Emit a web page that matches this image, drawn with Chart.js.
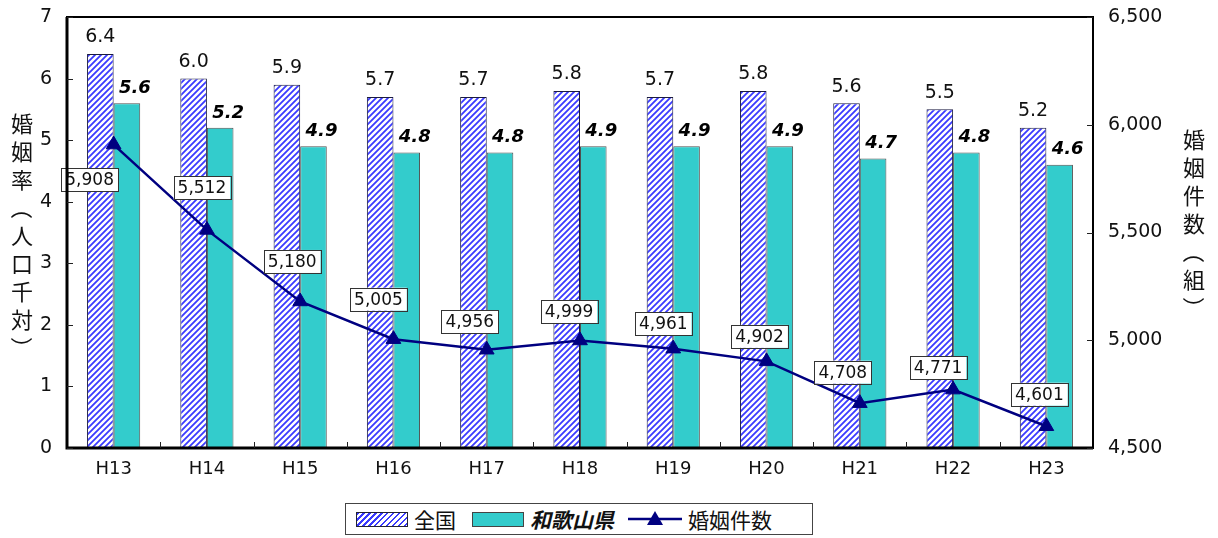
<!DOCTYPE html>
<html lang="ja">
<head>
<meta charset="utf-8">
<title>婚姻率と婚姻件数</title>
<script src="https://cdn.jsdelivr.net/npm/chart.js@4/dist/chart.umd.min.js"></script>
<style>
  html, body { margin: 0; padding: 0; background: #fff; }
  #wrap { position: relative; width: 1218px; height: 538px; }
  #legend {
    position: absolute; left: 345px; top: 503px; width: 466px; height: 30px;
    border: 1px solid #444; background: #fff;
    display: flex; align-items: center;
    font-family: "Noto Sans CJK JP", sans-serif; font-size: 21px; color: #111;
  }
  #legend .sw { display: inline-block; width: 52px; height: 15px; box-sizing: border-box; }
  #legend .hatch {
    margin-left: 10px; border: 1px solid #223;
    background: repeating-linear-gradient(135deg, #3a3aff 0 1.6px, #fff 1.6px 4.2px);
  }
  #legend .teal { margin-left: 16px; background: #33cccc; border: 1px solid #444; }
  #legend .txt { margin-left: 6px; line-height: 1; }
  #legend .bi { font-weight: bold; font-style: italic; }
  #legend svg { margin-left: 14px; }
</style>
</head>
<body>
<div id="wrap">
  <canvas id="chart" width="1218" height="538"></canvas>
  <div id="legend">
    <span class="sw hatch"></span><span class="txt">全国</span>
    <span class="sw teal"></span><span class="txt bi">和歌山県</span>
    <svg width="54" height="20"><line x1="0" y1="10" x2="54" y2="10" stroke="#000080" stroke-width="2.5"/><polygon points="27,2 35,16 19,16" fill="#000080"/></svg><span class="txt">婚姻件数</span>
  </div>
</div>
<script>
// =====================
// データ
// =====================
const years = ['H13', 'H14', 'H15', 'H16', 'H17', 'H18', 'H19', 'H20', 'H21', 'H22', 'H23'];
const nationalRate = [6.4, 6.0, 5.9, 5.7, 5.7, 5.8, 5.7, 5.8, 5.6, 5.5, 5.2];
const wakayamaRate = [5.6, 5.2, 4.9, 4.8, 4.8, 4.9, 4.9, 4.9, 4.7, 4.8, 4.6];
const marriages = [5908, 5512, 5180, 5005, 4956, 4999, 4961, 4902, 4708, 4771, 4601];

// 縦書きタイトル（括弧は回転して描く）
const leftTitle = ['婚', '姻', '率', '（', '人', '口', '千', '対', '）'];
const rightTitle = ['婚', '姻', '件', '数', '（', '組', '）'];

// ラベルの位置ずれ（点からの距離）
const countLabelDx = [-24, -5, -8, -15, -17, -11, -10, -7, -17, -15, -7];
const countLabelDy = [35, -42, -40, -40, -28, -29, -25, -25, -31, -22, -32];

const NUM_FONT = '"DejaVu Sans", sans-serif';
const JP_FONT = '"Noto Sans CJK JP", sans-serif';

const canvas = document.getElementById('chart');
const ctx = canvas.getContext('2d');

// 斜線パターン
function makeHatch() {
    const c = document.createElement('canvas');
    c.width = 6; c.height = 6;
    const g = c.getContext('2d');
    g.fillStyle = '#ffffff';
    g.fillRect(0, 0, 6, 6);
    g.strokeStyle = '#3a3aff';
    g.lineWidth = 1.8;
    g.beginPath();
    g.moveTo(-1, 7); g.lineTo(7, -1);
    g.moveTo(-4, 4); g.lineTo(4, -4);
    g.moveTo(2, 10); g.lineTo(10, 2);
    g.stroke();
    return ctx.createPattern(c, 'repeat');
}

function drawVertical(c, chars, x, y0, step) {
    chars.forEach((ch, i) => {
        const y = y0 + i * step;
        if (ch === '（' || ch === '）') {
            c.save();
            c.translate(x, y);
            c.rotate(Math.PI / 2);
            c.fillText(ch, 0, 0);
            c.restore();
        } else {
            c.fillText(ch, x, y);
        }
    });
}

// =====================
// 枠・タイトル・ラベル
// =====================
const decorPlugin = {
    id: 'decor',
    afterDatasetsDraw(chart) {
        const c = chart.ctx;
        const area = chart.chartArea;
        const y = chart.scales.y;
        const y1 = chart.scales.y1;

        c.save();
        // 棒の値
        const m0 = chart.getDatasetMeta(0);
        const m1 = chart.getDatasetMeta(1);
        c.textAlign = 'center';
        c.textBaseline = 'bottom';
        c.fillStyle = '#111';
        c.font = '19px ' + NUM_FONT;
        m0.data.forEach((bar, i) => {
            c.fillText(nationalRate[i].toFixed(1), bar.x, bar.y - 7);
        });
        c.font = 'italic bold 18px ' + NUM_FONT;
        c.fillStyle = '#000';
        m1.data.forEach((bar, i) => {
            c.fillText(wakayamaRate[i].toFixed(1), bar.x + 8, bar.y - 6);
        });

        // 件数ラベル
        const m2 = chart.getDatasetMeta(2);
        c.font = '17px ' + NUM_FONT;
        c.textBaseline = 'middle';
        m2.data.forEach((pt, i) => {
            const txt = marriages[i].toLocaleString('en-US');
            const w = c.measureText(txt).width + 8;
            const h = 23;
            const cx = pt.x + countLabelDx[i];
            const cy = pt.y + countLabelDy[i];
            c.fillStyle = '#fff';
            c.fillRect(cx - w / 2, cy - h / 2, w, h);
            c.strokeStyle = '#333';
            c.lineWidth = 1;
            c.strokeRect(Math.round(cx - w / 2) + 0.5, Math.round(cy - h / 2) + 0.5, Math.round(w), h);
            c.fillStyle = '#111';
            c.fillText(txt, cx, cy + 1);
        });

        // 枠
        c.strokeStyle = '#000';
        c.lineWidth = 2;
        c.strokeRect(area.left, area.top, area.right - area.left, area.bottom - area.top);
        c.lineWidth = 3;
        c.beginPath();
        c.moveTo(area.left, area.top);
        c.lineTo(area.left, area.bottom);
        c.lineTo(area.right, area.bottom);
        c.stroke();

        // 目盛り
        c.lineWidth = 1;
        c.strokeStyle = '#222';
        c.beginPath();
        const step = (area.right - area.left) / years.length;
        for (let i = 1; i < years.length; i++) {
            const tx = Math.round(area.left + step * i) + 0.5;
            c.moveTo(tx, area.bottom);
            c.lineTo(tx, area.bottom - 6);
        }
        y.ticks.forEach(t => {
            const ty = Math.round(y.getPixelForValue(t.value)) + 0.5;
            c.moveTo(area.left, ty);
            c.lineTo(area.left + 6, ty);
        });
        y1.ticks.forEach(t => {
            const ty = Math.round(y1.getPixelForValue(t.value)) + 0.5;
            c.moveTo(area.right, ty);
            c.lineTo(area.right - 6, ty);
        });
        c.stroke();

        // 軸タイトル（縦書き）
        c.fillStyle = '#111';
        c.font = '22px ' + JP_FONT;
        c.textAlign = 'center';
        c.textBaseline = 'middle';
        drawVertical(c, leftTitle, 22, 124, 28);
        drawVertical(c, rightTitle, 1194, 140, 28);
        c.restore();
    }
};

// =====================
// グラフ
// =====================
const hatch = makeHatch();

const noPad = s => { s.paddingTop = 0; s.paddingBottom = 0; };

new Chart(ctx, {
    type: 'bar',
    data: {
        labels: years,
        datasets: [
            {
                label: '全国', data: nationalRate, yAxisID: 'y', order: 2,
                backgroundColor: hatch, borderColor: '#1a1a40', borderWidth: 1,
                categoryPercentage: 0.57, barPercentage: 1
            },
            {
                label: '和歌山県', data: wakayamaRate, yAxisID: 'y', order: 2,
                backgroundColor: '#33cccc', borderColor: '#505050', borderWidth: 1,
                categoryPercentage: 0.57, barPercentage: 1
            },
            {
                type: 'line', label: '婚姻件数', data: marriages, yAxisID: 'y1', order: 0,
                borderColor: '#000080', borderWidth: 2.5, tension: 0,
                pointStyle: 'triangle', pointRadius: 8.5, pointHoverRadius: 8.5,
                pointBackgroundColor: '#000080', pointBorderColor: '#000080', pointBorderWidth: 1
            }
        ]
    },
    options: {
        responsive: false,
        animation: false,
        layout: { padding: { top: 17, left: 0, right: 0, bottom: 0 } },
        plugins: { legend: { display: false }, tooltip: { enabled: false } },
        scales: {
            x: {
                grid: { display: false, drawTicks: false },
                border: { display: false },
                ticks: { color: '#111', font: { family: NUM_FONT, size: 18 }, padding: 11 },
                afterFit: s => { s.height = 90; s.paddingLeft = 0; s.paddingRight = 0; }
            },
            y: {
                position: 'left', min: 0, max: 7,
                grid: { display: false, drawTicks: false },
                border: { display: false },
                ticks: { stepSize: 1, color: '#111', font: { family: NUM_FONT, size: 19 }, padding: 15 },
                afterFit: s => { s.width = 67; noPad(s); }
            },
            y1: {
                position: 'right', min: 4500, max: 6500,
                grid: { display: false, drawTicks: false },
                border: { display: false },
                ticks: {
                    stepSize: 500, color: '#111', font: { family: NUM_FONT, size: 19 }, padding: 15,
                    callback: v => v.toLocaleString('en-US')
                },
                afterFit: s => { s.width = 125; noPad(s); }
            }
        }
    },
    plugins: [decorPlugin]
});
</script>
</body>
</html>
